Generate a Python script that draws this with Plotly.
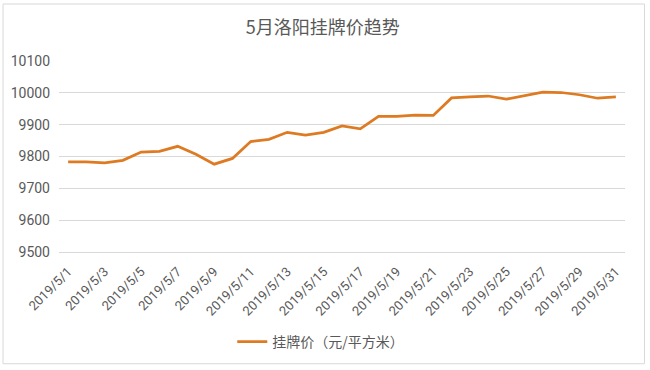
import plotly.graph_objects as go

dates = [f"2019/5/{d}" for d in range(1, 32)]
prices = [9783, 9783, 9780, 9788, 9814, 9816, 9832, 9807, 9776, 9794,
          9847, 9854, 9876, 9867, 9876, 9896, 9887, 9926, 9926, 9930,
          9929, 9984, 9987, 9990, 9980, 9992, 10002, 10001, 9994, 9983,
          9987]
tick_labels = dates[::2]
y_ticks = [9500, 9600, 9700, 9800, 9900, 10000, 10100]
y_tick_text = [str(v) for v in y_ticks]

title_text = "5月洛阳挂牌价趋势"
series_name = "挂牌价（元/平方米）"

fig = go.Figure()
fig.add_trace(go.Scatter(
    x=dates, y=prices, mode="lines", name=series_name,
    line=dict(color="#DD7A22", width=2.75),
))

font_cjk = "Noto Sans CJK SC"
grey = "#595959"

fig.update_layout(
    width=650, height=370,
    margin=dict(l=59, r=24.5, t=60.7, b=116),
    paper_bgcolor="white", plot_bgcolor="white",
    title=dict(text=title_text, x=0.4965, xanchor="center", y=0.924, yanchor="middle",
               font=dict(family=font_cjk, size=18, color=grey)),
    showlegend=True,
    legend=dict(orientation="h", x=0.4625, xanchor="center", y=-0.471, yanchor="middle",
                font=dict(family=font_cjk, size=14, color=grey),
                bgcolor="rgba(0,0,0,0)"),
    xaxis=dict(type="category", range=[-0.5, 30.5], tickmode="array",
               tickvals=tick_labels, ticktext=tick_labels, tickangle=-45,
               showgrid=False, showline=True, linecolor="#d9d9d9", linewidth=1,
               zeroline=False, ticks="", ticklabelstandoff=6,
               tickfont=dict(family="Roboto", size=13, color=grey)),
    yaxis=dict(range=[9500, 10100], tickmode="array", tickvals=y_ticks,
               ticktext=y_tick_text,
               showgrid=True, gridcolor="#d9d9d9", gridwidth=1, zeroline=False,
               showline=False, ticks="", ticklabelstandoff=8,
               tickfont=dict(family="Roboto", size=14, color=grey)),
    shapes=[dict(type="rect", xref="paper", yref="paper",
                 x0=-0.0989, x1=1.0344, y0=-0.585, y1=1.2985,
                 line=dict(color="#d9d9d9", width=1), fillcolor="rgba(0,0,0,0)",
                 layer="below")],
)

fig.write_html("out.html")
